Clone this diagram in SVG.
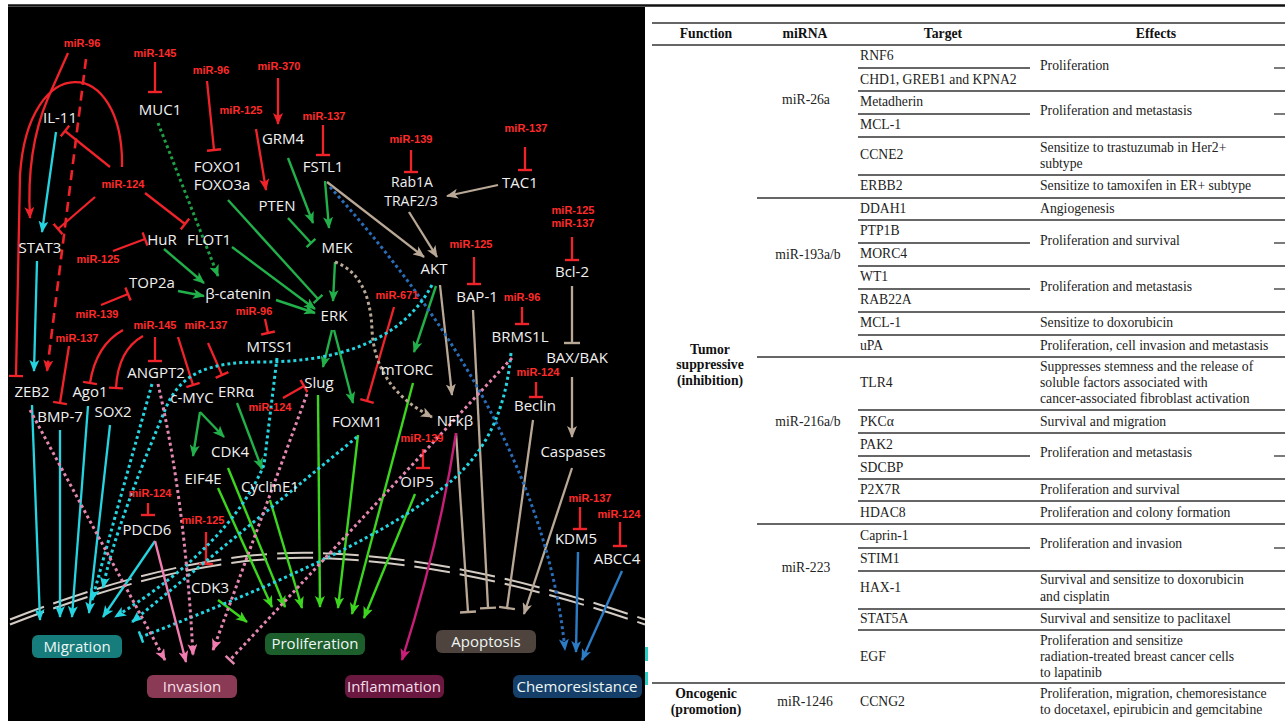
<svg xmlns="http://www.w3.org/2000/svg" width="1285" height="721" viewBox="0 0 1285 721">
<style>
.mir{fill:#ff2a2a;font:bold 11px "Liberation Sans",Arial,sans-serif;text-anchor:middle}
.nd{fill:#f0f0f0;font:15px "Open Sans","Liberation Sans",sans-serif;text-anchor:middle}
.nd2{fill:#f0f0f0;font:14px "Open Sans","Liberation Sans",sans-serif;text-anchor:middle}
.box{font:15px "Open Sans","Liberation Sans",sans-serif;text-anchor:middle;fill:#eef6f4}
.r{stroke:#f0232b;stroke-width:2.3;fill:none}
.rd{stroke:#f0232b;stroke-width:2.6;fill:none;stroke-dasharray:10 6}
.g{stroke:#22b04a;stroke-width:2.4;fill:none}
.gl{stroke:#3cd61e;stroke-width:2.4;fill:none}
.gd{stroke:#1f9f45;stroke-width:3;fill:none;stroke-dasharray:3 3}
.c{stroke:#25d4e0;stroke-width:2.3;fill:none}
.cd{stroke:#25d4e0;stroke-width:3;fill:none;stroke-dasharray:3 3}
.t{stroke:#b9a896;stroke-width:2.3;fill:none}
.td{stroke:#b9a896;stroke-width:3;fill:none;stroke-dasharray:3 3}
.m{stroke:#c81e78;stroke-width:2.4;fill:none}
.b{stroke:#2b7cc4;stroke-width:2.4;fill:none}
.bd{stroke:#2a6cb5;stroke-width:3;fill:none;stroke-dasharray:3 3}
.p{stroke:#f07cb0;stroke-width:2.4;fill:none}
.pd{stroke:#e487b0;stroke-width:3;fill:none;stroke-dasharray:3 3}
.mem{stroke:#d4ccc4;stroke-width:2;fill:none;stroke-dasharray:36 10}
.tx{font:13.7px "Liberation Serif","Times New Roman",serif;fill:#222}
.th{font:bold 13.7px "Liberation Serif","Times New Roman",serif;fill:#111;text-anchor:middle}
.tc{text-anchor:middle}
.ln{stroke:#333;stroke-width:1.3}
</style>
<defs>
<marker id="ar" viewBox="0 0 12 10" refX="11" refY="5" markerWidth="12" markerHeight="10" markerUnits="userSpaceOnUse" orient="auto"><path d="M0,0L12,5L0,10L3,5z" fill="#f0232b"/></marker>
<marker id="ag" viewBox="0 0 12 10" refX="11" refY="5" markerWidth="12" markerHeight="10" markerUnits="userSpaceOnUse" orient="auto"><path d="M0,0L12,5L0,10L3,5z" fill="#22b04a"/></marker>
<marker id="agl" viewBox="0 0 12 10" refX="11" refY="5" markerWidth="12" markerHeight="10" markerUnits="userSpaceOnUse" orient="auto"><path d="M0,0L12,5L0,10L3,5z" fill="#3cd61e"/></marker>
<marker id="ac" viewBox="0 0 12 10" refX="11" refY="5" markerWidth="12" markerHeight="10" markerUnits="userSpaceOnUse" orient="auto"><path d="M0,0L12,5L0,10L3,5z" fill="#25d4e0"/></marker>
<marker id="at" viewBox="0 0 12 10" refX="11" refY="5" markerWidth="12" markerHeight="10" markerUnits="userSpaceOnUse" orient="auto"><path d="M0,0L12,5L0,10L3,5z" fill="#b9a896"/></marker>
<marker id="am" viewBox="0 0 12 10" refX="11" refY="5" markerWidth="12" markerHeight="10" markerUnits="userSpaceOnUse" orient="auto"><path d="M0,0L12,5L0,10L3,5z" fill="#c81e78"/></marker>
<marker id="ab" viewBox="0 0 12 10" refX="11" refY="5" markerWidth="12" markerHeight="10" markerUnits="userSpaceOnUse" orient="auto"><path d="M0,0L12,5L0,10L3,5z" fill="#2b7cc4"/></marker>
<marker id="ap" viewBox="0 0 12 10" refX="11" refY="5" markerWidth="12" markerHeight="10" markerUnits="userSpaceOnUse" orient="auto"><path d="M0,0L12,5L0,10L3,5z" fill="#f07cb0"/></marker>
<marker id="tr" viewBox="-2 -7 4 14" refX="0" refY="0" markerWidth="4" markerHeight="14" markerUnits="userSpaceOnUse" orient="auto"><path d="M0,-7V7" stroke="#f0232b" stroke-width="2.4"/></marker>
<marker id="tg" viewBox="-2 -7 4 14" refX="0" refY="0" markerWidth="4" markerHeight="14" markerUnits="userSpaceOnUse" orient="auto"><path d="M0,-6V6" stroke="#22b04a" stroke-width="2.4"/></marker>
<marker id="tt" viewBox="-2 -9 4 18" refX="0" refY="0" markerWidth="4" markerHeight="18" markerUnits="userSpaceOnUse" orient="auto"><path d="M0,-8V8" stroke="#b9a896" stroke-width="2.4"/></marker>
<marker id="tc" viewBox="-2 -7 4 14" refX="0" refY="0" markerWidth="4" markerHeight="14" markerUnits="userSpaceOnUse" orient="auto"><path d="M0,-6V6" stroke="#25d4e0" stroke-width="2.6"/></marker>
<marker id="tp" viewBox="-2 -7 4 14" refX="0" refY="0" markerWidth="4" markerHeight="14" markerUnits="userSpaceOnUse" orient="auto"><path d="M0,-6V6" stroke="#e487b0" stroke-width="2.6"/></marker>
</defs>
<rect width="1285" height="721" fill="#fff"/>
<line x1="8" y1="5.5" x2="1285" y2="5.5" stroke="#111" stroke-width="2.5"/>
<rect x="8" y="7" width="637" height="714" fill="#000"/>
<rect x="645" y="647" width="3" height="14" fill="#2ad0c8"/>
<rect x="645" y="672" width="3" height="13" fill="#2ad0c8"/>
<g id="membrane">
<path class="mem" d="M10,619.5 Q200,545.5 330,553.5 Q470,559.5 645,619.5"/>
<path class="mem" d="M10,624.5 Q200,550.5 330,558.5 Q470,564.5 645,624.5"/>
</g>
<g id="outcomes">
<g id="migration"><rect x="32" y="635" width="90" height="23" rx="6" fill="#167c7c"/><text class="box" x="77" y="652">Migration</text></g>
<g id="invasion"><rect x="147" y="675" width="90" height="23" rx="6" fill="#8a3a55"/><text class="box" x="192" y="692" style="fill:#f6dfe6">Invasion</text></g>
<g id="proliferation"><rect x="265" y="633" width="100" height="22" rx="6" fill="#1c5e2c"/><text class="box" x="315" y="649">Proliferation</text></g>
<g id="inflammation"><rect x="345" y="675" width="99" height="23" rx="6" fill="#6a1840"/><text class="box" x="394" y="692" style="fill:#f2dde8">Inflammation</text></g>
<g id="apoptosis"><rect x="436" y="630" width="100" height="23" rx="6" fill="#4e433d"/><text class="box" x="486" y="647">Apoptosis</text></g>
<g id="chemoresistance"><rect x="513" y="675" width="129" height="23" rx="6" fill="#153f68"/><text class="box" x="577" y="692">Chemoresistance</text></g>
</g>
<g id="connectors">
<path class="r" d="M68,53 L48,98 Q26,150 30,218" marker-end="url(#ar)"/>
<path class="r" d="M122,167 C124,55 28,50 20,175 L16,376" marker-end="url(#tr)"/>
<path class="r" d="M110,167 L65,131" marker-end="url(#tr)"/>
<path class="r" d="M95,197 L58,229" marker-end="url(#tr)"/>
<path class="r" d="M145,193 L185,224" marker-end="url(#tr)"/>
<path class="r" d="M155,62 L155,92" marker-end="url(#tr)"/>
<path class="r" d="M207,81 L214,150" marker-end="url(#tr)"/>
<path class="r" d="M278,78 L278,124" marker-end="url(#ar)"/>
<path class="r" d="M256,129 L266,190" marker-end="url(#ar)"/>
<path class="r" d="M323,125 L323,155" marker-end="url(#tr)"/>
<path class="r" d="M411,150 L411,172" marker-end="url(#tr)"/>
<path class="r" d="M525,147 L525,170" marker-end="url(#tr)"/>
<path class="r" d="M572,237 L572,260" marker-end="url(#tr)"/>
<path class="r" d="M113,251 L145,239" marker-end="url(#tr)"/>
<path class="r" d="M101,305 L128,294" marker-end="url(#tr)"/>
<path class="r" d="M123,330 Q96,345 90,383" marker-end="url(#tr)"/>
<path class="r" d="M143,336 Q118,350 116,388" marker-end="url(#tr)"/>
<path class="r" d="M155,337 L155,361" marker-end="url(#tr)"/>
<path class="r" d="M178,337 L193,385" marker-end="url(#tr)"/>
<path class="r" d="M208,343 L222,375" marker-end="url(#tr)"/>
<path class="r" d="M69,346 L60,403" marker-end="url(#tr)"/>
<path class="r" d="M265,319 L268,333" marker-end="url(#tr)"/>
<path class="r" d="M283,398 L304,386" marker-end="url(#tr)"/>
<path class="r" d="M474,257 L474,284" marker-end="url(#tr)"/>
<path class="r" d="M394,307 L367,401" marker-end="url(#tr)"/>
<path class="r" d="M522,307 L522,324" marker-end="url(#tr)"/>
<path class="r" d="M536,382 L536,397" marker-end="url(#tr)"/>
<path class="r" d="M423,449 L423,468" marker-end="url(#tr)"/>
<path class="r" d="M148,503 L148,515" marker-end="url(#tr)"/>
<path class="r" d="M206,532 L206,564" marker-end="url(#tr)"/>
<path class="r" d="M580,507 L580,529" marker-end="url(#tr)"/>
<path class="r" d="M620,522 L620,546" marker-end="url(#tr)"/>
<path class="rd" d="M86,59 L47,371" marker-end="url(#ar)"/>
<path class="g" d="M288,158 L313,223" marker-end="url(#ag)"/>
<path class="g" d="M288,218 L311,243" marker-end="url(#tg)"/>
<path class="g" d="M325,181 L329,228" marker-end="url(#ag)"/>
<path class="g" d="M228,200 L318,299" marker-end="url(#tg)"/>
<path class="g" d="M232,247 L315,309" marker-end="url(#ag)"/>
<path class="g" d="M276,300 L315,313" marker-end="url(#ag)"/>
<path class="g" d="M164,249 L204,283" marker-end="url(#ag)"/>
<path class="g" d="M178,291 L204,296" marker-end="url(#ag)"/>
<path class="g" d="M335,262 L333,301" marker-end="url(#ag)"/>
<path class="g" d="M332,330 L323,367" marker-end="url(#ag)"/>
<path class="g" d="M334,330 L353,403" marker-end="url(#ag)"/>
<path class="g" d="M436,286 L414,352" marker-end="url(#ag)"/>
<path class="g" d="M200,412 L193,456" marker-end="url(#ag)"/>
<path class="g" d="M200,412 L224,437" marker-end="url(#ag)"/>
<path class="g" d="M237,403 L262,469" marker-end="url(#ag)"/>
<path class="gd" d="M158,123 L218,276" marker-end="url(#ag)"/>
<path class="gl" d="M218,488 L272,607" marker-end="url(#agl)"/>
<path class="gl" d="M228,468 L285,607" marker-end="url(#agl)"/>
<path class="gl" d="M270,500 L302,608" marker-end="url(#agl)"/>
<path class="gl" d="M318,395 L320,607" marker-end="url(#agl)"/>
<path class="gl" d="M358,435 L338,608" marker-end="url(#agl)"/>
<path class="gl" d="M413,383 L352,614" marker-end="url(#agl)"/>
<path class="gl" d="M415,494 L364,618" marker-end="url(#agl)"/>
<path class="gl" d="M218,600 L247,622" marker-end="url(#agl)"/>
<path class="t" d="M327,182 L424,257" marker-end="url(#at)"/>
<path class="t" d="M498,185 L447,196" marker-end="url(#at)"/>
<path class="t" d="M409,212 L437,257" marker-end="url(#at)"/>
<path class="t" d="M440,285 L452,395" marker-end="url(#at)"/>
<path class="td" d="M335,262 Q370,275 372,330 Q375,388 432,417" marker-end="url(#at)"/>
<path class="t" d="M456,433 L468,612" marker-end="url(#tt)"/>
<path class="t" d="M473,310 L488,608" marker-end="url(#tt)"/>
<path class="t" d="M533,420 L507,608" marker-end="url(#tt)"/>
<path class="t" d="M572,286 L572,343" marker-end="url(#tt)"/>
<path class="t" d="M572,377 L572,437" marker-end="url(#at)"/>
<path class="t" d="M572,468 L524,614" marker-end="url(#at)"/>
<path class="m" d="M456,433 Q440,540 402,660" marker-end="url(#am)"/>
<path class="bd" d="M330,187 Q542,421 565,650" marker-end="url(#ab)"/>
<path class="b" d="M578,552 L576,652" marker-end="url(#ab)"/>
<path class="b" d="M622,571 L582,660" marker-end="url(#ab)"/>
<path class="c" d="M56,132 L42,232" marker-end="url(#ac)"/>
<path class="c" d="M37,261 L34,371" marker-end="url(#ac)"/>
<path class="c" d="M32,405 L40,620" marker-end="url(#ac)"/>
<path class="c" d="M60,430 L60,617" marker-end="url(#ac)"/>
<path class="c" d="M88,406 L72,617" marker-end="url(#ac)"/>
<path class="c" d="M110,425 L89,613" marker-end="url(#ac)"/>
<path class="c" d="M155,541 L103,617" marker-end="url(#ac)"/>
<path class="cd" d="M152,384 L92,600" marker-end="url(#ac)"/>
<path class="cd" d="M432,285 C400,345 330,362 262,362 C210,362 180,372 165,410 C140,470 112,540 103,588" marker-end="url(#ac)"/>
<path class="cd" d="M277,358 L264,465 Q230,545 115,617" marker-end="url(#ac)"/>
<path class="cd" d="M357,437 L132,622" marker-end="url(#ac)"/>
<path class="cd" d="M511,353 C505,420 480,460 440,490 C380,540 250,595 141,637" marker-end="url(#tc)"/>
<path class="pd" d="M30,410 L165,660" marker-end="url(#ap)"/>
<path class="pd" d="M158,384 Q185,500 193,655" marker-end="url(#ap)"/>
<path class="pd" d="M307,394 L213,650" marker-end="url(#ap)"/>
<path class="pd" d="M512,358 L230,660" marker-end="url(#tp)"/>
<path class="p" d="M155,541 L186,662" marker-end="url(#ap)"/>
</g>
<g id="mirnas">
<g id="m1"><text class="mir" x="82" y="47">miR-96</text></g>
<g id="m2"><text class="mir" x="155" y="57">miR-145</text></g>
<g id="m3"><text class="mir" x="211" y="74">miR-96</text></g>
<g id="m4"><text class="mir" x="279" y="70">miR-370</text></g>
<g id="m5"><text class="mir" x="241" y="114">miR-125</text></g>
<g id="m6"><text class="mir" x="324" y="120">miR-137</text></g>
<g id="m7"><text class="mir" x="411" y="143">miR-139</text></g>
<g id="m8"><text class="mir" x="526" y="132">miR-137</text></g>
<g id="m9"><text class="mir" x="573" y="214">miR-125</text><text class="mir" x="573" y="227">miR-137</text></g>
<g id="m10"><text class="mir" x="123" y="188">miR-124</text></g>
<g id="m11"><text class="mir" x="98" y="263">miR-125</text></g>
<g id="m12"><text class="mir" x="97" y="318">miR-139</text></g>
<g id="m13"><text class="mir" x="155" y="329">miR-145</text></g>
<g id="m14"><text class="mir" x="206" y="329">miR-137</text></g>
<g id="m15"><text class="mir" x="254" y="315">miR-96</text></g>
<g id="m16"><text class="mir" x="77" y="342">miR-137</text></g>
<g id="m17"><text class="mir" x="471" y="248">miR-125</text></g>
<g id="m18"><text class="mir" x="397" y="299">miR-671</text></g>
<g id="m19"><text class="mir" x="522" y="301">miR-96</text></g>
<g id="m20"><text class="mir" x="538" y="376">miR-124</text></g>
<g id="m21"><text class="mir" x="270" y="411">miR-124</text></g>
<g id="m22"><text class="mir" x="422" y="442">miR-139</text></g>
<g id="m23"><text class="mir" x="150" y="497">miR-124</text></g>
<g id="m24"><text class="mir" x="203" y="524">miR-125</text></g>
<g id="m25"><text class="mir" x="590" y="502">miR-137</text></g>
<g id="m26"><text class="mir" x="619" y="518">miR-124</text></g>
</g>
<g id="nodes">
<g id="il11"><text class="nd" x="60" y="123">IL-11</text></g>
<g id="muc1"><text class="nd" x="160" y="115">MUC1</text></g>
<g id="foxo"><text class="nd" x="218" y="172">FOXO1</text><text class="nd" x="222" y="190">FOXO3a</text></g>
<g id="grm4"><text class="nd" x="283" y="144">GRM4</text></g>
<g id="pten"><text class="nd" x="277" y="211">PTEN</text></g>
<g id="fstl1"><text class="nd" x="323" y="172">FSTL1</text></g>
<g id="rab1a"><text class="nd2" x="412" y="187">Rab1A</text><text class="nd2" x="411" y="206">TRAF2/3</text></g>
<g id="tac1"><text class="nd" x="520" y="188">TAC1</text></g>
<g id="hur"><text class="nd" x="162" y="245">HuR</text></g>
<g id="flot1"><text class="nd" x="209" y="245">FLOT1</text></g>
<g id="stat3"><text class="nd" x="40" y="253">STAT3</text></g>
<g id="mek"><text class="nd" x="337" y="253">MEK</text></g>
<g id="top2a"><text class="nd" x="152" y="288">TOP2a</text></g>
<g id="bcat"><text class="nd" x="238" y="299">β-catenin</text></g>
<g id="erk"><text class="nd" x="334" y="321">ERK</text></g>
<g id="akt"><text class="nd" x="434" y="274">AKT</text></g>
<g id="bap1"><text class="nd" x="477" y="302">BAP-1</text></g>
<g id="bcl2"><text class="nd" x="572" y="277">Bcl-2</text></g>
<g id="brms1l"><text class="nd" x="520" y="342">BRMS1L</text></g>
<g id="baxbak"><text class="nd" x="577" y="363">BAX/BAK</text></g>
<g id="mtss1"><text class="nd" x="270" y="352">MTSS1</text></g>
<g id="mtorc"><text class="nd" x="407" y="375">mTORC</text></g>
<g id="angpt2"><text class="nd" x="156" y="378">ANGPT2</text></g>
<g id="cmyc"><text class="nd" x="192" y="403">c-MYC</text></g>
<g id="erra"><text class="nd" x="236" y="397">ERRα</text></g>
<g id="slug"><text class="nd" x="319" y="388">Slug</text></g>
<g id="zeb2"><text class="nd" x="32" y="397">ZEB2</text></g>
<g id="ago1"><text class="nd" x="90" y="397">Ago1</text></g>
<g id="bmp7"><text class="nd" x="60" y="422">BMP-7</text></g>
<g id="sox2"><text class="nd" x="113" y="417">SOX2</text></g>
<g id="beclin"><text class="nd" x="535" y="411">Beclin</text></g>
<g id="foxm1"><text class="nd" x="357" y="427">FOXM1</text></g>
<g id="nfkb"><text class="nd" x="455" y="426">NFkβ</text></g>
<g id="caspases"><text class="nd" x="573" y="457">Caspases</text></g>
<g id="cdk4"><text class="nd" x="230" y="457">CDK4</text></g>
<g id="eif4e"><text class="nd" x="203" y="484">EIF4E</text></g>
<g id="cycline1"><text class="nd" x="270" y="492">CyclinE1</text></g>
<g id="oip5"><text class="nd" x="417" y="487">OIP5</text></g>
<g id="pdcd6"><text class="nd" x="147" y="535">PDCD6</text></g>
<g id="kdm5"><text class="nd" x="576" y="544">KDM5</text></g>
<g id="abcc4"><text class="nd" x="617" y="564">ABCC4</text></g>
<g id="cdk3"><text class="nd" x="210" y="593">CDK3</text></g>
</g>
<g id="table">
<g id="table-lines">
<line class="ln" x1="652" y1="23" x2="1285" y2="23" style="stroke-width:1.6"/>
<line class="ln" x1="652" y1="45" x2="1285" y2="45" style="stroke-width:1.6"/>
<line class="ln" x1="858" y1="68" x2="1030" y2="68"/><line class="ln" x1="1274" y1="68" x2="1285" y2="68"/>
<line class="ln" x1="858" y1="91" x2="1285" y2="91"/>
<line class="ln" x1="858" y1="114" x2="1030" y2="114"/><line class="ln" x1="1274" y1="114" x2="1285" y2="114"/>
<line class="ln" x1="858" y1="137" x2="1285" y2="137"/>
<line class="ln" x1="858" y1="175" x2="1285" y2="175"/>
<line class="ln" x1="757" y1="198" x2="1285" y2="198"/>
<line class="ln" x1="858" y1="220" x2="1285" y2="220"/>
<line class="ln" x1="858" y1="243" x2="1030" y2="243"/><line class="ln" x1="1274" y1="243" x2="1285" y2="243"/>
<line class="ln" x1="858" y1="266" x2="1285" y2="266"/>
<line class="ln" x1="858" y1="289" x2="1030" y2="289"/><line class="ln" x1="1274" y1="289" x2="1285" y2="289"/>
<line class="ln" x1="858" y1="312" x2="1285" y2="312"/>
<line class="ln" x1="858" y1="335" x2="1285" y2="335"/>
<line class="ln" x1="757" y1="357" x2="1285" y2="357"/>
<line class="ln" x1="858" y1="410" x2="1285" y2="410"/>
<line class="ln" x1="858" y1="433" x2="1285" y2="433"/>
<line class="ln" x1="858" y1="456" x2="1030" y2="456"/><line class="ln" x1="1274" y1="456" x2="1285" y2="456"/>
<line class="ln" x1="858" y1="479" x2="1285" y2="479"/>
<line class="ln" x1="858" y1="501" x2="1285" y2="501"/>
<line class="ln" x1="757" y1="524" x2="1285" y2="524"/>
<line class="ln" x1="858" y1="548" x2="1030" y2="548"/><line class="ln" x1="1274" y1="548" x2="1285" y2="548"/>
<line class="ln" x1="858" y1="571" x2="1285" y2="571"/>
<line class="ln" x1="858" y1="609" x2="1285" y2="609"/>
<line class="ln" x1="858" y1="630" x2="1285" y2="630"/>
<line class="ln" x1="652" y1="683" x2="1285" y2="683" style="stroke-width:1.6"/>
</g>
<g id="table-head">
<text class="th" x="706" y="38">Function</text>
<text class="th" x="805" y="38">miRNA</text>
<text class="th" x="943" y="38">Target</text>
<text class="th" x="1156" y="38">Effects</text>
</g>
<g id="table-function">
<text class="th" x="710" y="354">Tumor</text>
<text class="th" x="710" y="369">suppressive</text>
<text class="th" x="710" y="385">(inhibition)</text>
<text class="th" x="706" y="698">Oncogenic</text>
<text class="th" x="706" y="714">(promotion)</text>
</g>
<g id="table-mirna">
<text class="tx tc" x="806" y="104">miR-26a</text>
<text class="tx tc" x="808" y="259">miR-193a/b</text>
<text class="tx tc" x="808" y="426">miR-216a/b</text>
<text class="tx tc" x="806" y="572">miR-223</text>
<text class="tx tc" x="805" y="706">miR-1246</text>
</g>
<g id="table-target">
<text class="tx" x="860" y="60">RNF6</text>
<text class="tx" x="860" y="84">CHD1, GREB1 and KPNA2</text>
<text class="tx" x="860" y="106">Metadherin</text>
<text class="tx" x="860" y="129">MCL-1</text>
<text class="tx" x="860" y="159">CCNE2</text>
<text class="tx" x="860" y="190">ERBB2</text>
<text class="tx" x="860" y="213">DDAH1</text>
<text class="tx" x="860" y="235">PTP1B</text>
<text class="tx" x="860" y="258">MORC4</text>
<text class="tx" x="860" y="281">WT1</text>
<text class="tx" x="860" y="304">RAB22A</text>
<text class="tx" x="860" y="327">MCL-1</text>
<text class="tx" x="860" y="350">uPA</text>
<text class="tx" x="860" y="387">TLR4</text>
<text class="tx" x="860" y="426">PKCα</text>
<text class="tx" x="860" y="449">PAK2</text>
<text class="tx" x="860" y="472">SDCBP</text>
<text class="tx" x="860" y="494">P2X7R</text>
<text class="tx" x="860" y="517">HDAC8</text>
<text class="tx" x="860" y="540">Caprin-1</text>
<text class="tx" x="860" y="563">STIM1</text>
<text class="tx" x="860" y="592">HAX-1</text>
<text class="tx" x="860" y="623">STAT5A</text>
<text class="tx" x="860" y="661">EGF</text>
<text class="tx" x="860" y="706">CCNG2</text>
</g>
<g id="table-effects">
<text class="tx" x="1040" y="70">Proliferation</text>
<text class="tx" x="1040" y="115">Proliferation and metastasis</text>
<text class="tx" x="1040" y="152">Sensitize to trastuzumab in Her2+</text>
<text class="tx" x="1040" y="168">subtype</text>
<text class="tx" x="1040" y="190">Sensitize to tamoxifen in ER+ subtype</text>
<text class="tx" x="1040" y="213">Angiogenesis</text>
<text class="tx" x="1040" y="245">Proliferation and survival</text>
<text class="tx" x="1040" y="291">Proliferation and metastasis</text>
<text class="tx" x="1040" y="327">Sensitize to doxorubicin</text>
<text class="tx" x="1040" y="350">Proliferation, cell invasion and metastasis</text>
<text class="tx" x="1040" y="371">Suppresses stemness and the release of</text>
<text class="tx" x="1040" y="387">soluble factors associated with</text>
<text class="tx" x="1040" y="403">cancer-associated fibroblast activation</text>
<text class="tx" x="1040" y="426">Survival and migration</text>
<text class="tx" x="1040" y="457">Proliferation and metastasis</text>
<text class="tx" x="1040" y="494">Proliferation and survival</text>
<text class="tx" x="1040" y="517">Proliferation and colony formation</text>
<text class="tx" x="1040" y="548">Proliferation and invasion</text>
<text class="tx" x="1040" y="584">Survival and sensitize to doxorubicin</text>
<text class="tx" x="1040" y="601">and cisplatin</text>
<text class="tx" x="1040" y="623">Survival and sensitize to paclitaxel</text>
<text class="tx" x="1040" y="645">Proliferation and sensitize</text>
<text class="tx" x="1040" y="661">radiation-treated breast cancer cells</text>
<text class="tx" x="1040" y="677">to lapatinib</text>
<text class="tx" x="1040" y="698">Proliferation, migration, chemoresistance</text>
<text class="tx" x="1040" y="714">to docetaxel, epirubicin and gemcitabine</text>
</g>
</g>
</svg>
